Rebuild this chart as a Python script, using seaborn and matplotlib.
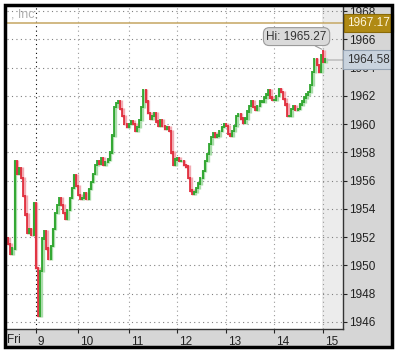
import matplotlib
matplotlib.use('Agg')
import matplotlib.pyplot as plt
import seaborn as sns
from matplotlib.patches import Rectangle
from matplotlib.transforms import ScaledTranslation

# hourly closes (Fri .. 15)
closes = [1951.5, 1950.8, 1951.2, 1957.4, 1956.5, 1956.9, 1956.2, 1954.9, 1953.6, 1952.3,
          1952.6, 1952.2, 1954.4, 1949.8, 1946.4, 1949.6, 1951.9, 1952.4, 1951.2, 1950.5,
          1951.4, 1952.6, 1953.7, 1954.3, 1954.8, 1954.3, 1953.7, 1953.3, 1953.9, 1954.8,
          1955.5, 1956.4, 1955.6, 1955.0, 1954.7, 1954.8, 1955.1, 1954.7, 1955.4, 1955.9,
          1956.5, 1957.1, 1957.4, 1957.2, 1957.6, 1957.1, 1957.3, 1957.5, 1958.0, 1959.2,
          1961.2, 1961.5, 1961.6, 1961.1, 1960.6, 1960.0, 1959.8, 1960.0, 1960.2, 1960.0,
          1959.5, 1959.8, 1960.3, 1961.2, 1962.4, 1961.6, 1960.8, 1960.4, 1960.6, 1960.8,
          1960.2, 1959.9, 1960.3, 1959.9, 1959.7, 1959.8, 1959.5, 1958.0, 1957.1, 1957.5,
          1957.6, 1957.4, 1957.4, 1957.1, 1957.0, 1956.2, 1955.3, 1955.1, 1955.2, 1955.5,
          1955.8, 1956.2, 1956.7, 1957.4, 1957.9, 1958.6, 1959.1, 1959.4, 1959.1, 1959.2,
          1959.5, 1959.8, 1960.0, 1959.9, 1959.3, 1959.2, 1959.5, 1959.9, 1960.6, 1960.7,
          1960.4, 1960.1, 1960.4, 1960.9, 1961.3, 1961.6, 1961.2, 1961.0, 1961.3, 1961.6,
          1961.6, 1961.9, 1962.1, 1962.4, 1961.9, 1961.7, 1961.7, 1962.0, 1962.5, 1962.3,
          1961.8, 1961.4, 1960.6, 1960.6, 1961.1, 1961.3, 1961.0, 1961.1, 1961.4, 1961.6,
          1961.9, 1962.1, 1962.3, 1962.8, 1963.7, 1964.6, 1964.2, 1963.7, 1964.9, 1964.4,
          1964.58]
first_open = 1951.9

day_starts = [13, 33, 57, 80, 103, 126, 149]
day_labels = ['9', '10', '11', '12', '13', '14', '15']
y_ticks = list(range(1946, 1969, 2))

hi_bar = 149
hi_value = 1965.27
last_value = 1964.58
ref_level = 1967.17

sns.set_style('white')
plt.rcParams['font.family'] = ['Liberation Sans', 'DejaVu Sans']

fig = plt.figure(figsize=(4, 3.52), dpi=100)
W, H = 400, 352

# gray panels behind the axes + outer black frame
fig.patches.append(Rectangle((343 / W, 5 / H), 49 / W, 342 / H, transform=fig.transFigure,
                             color='#d6d6d6', zorder=-2))
fig.patches.append(Rectangle((5 / W, 5 / H), 338 / W, 18 / H, transform=fig.transFigure,
                             color='#d6d6d6', zorder=-2))
fig.patches.append(Rectangle((5 / W, 5 / H), 387 / W, 342 / H, transform=fig.transFigure,
                             fill=False, ec='black', lw=2.5, zorder=5))

ax = fig.add_axes([7 / W, 23 / H, 336 / W, 322 / H])
ax.set_zorder(2)
ax.set_facecolor('white')

x_left, x_right = -0.6, 158.5
ax.set_xlim(x_left, x_right)
ax.set_ylim(1945.5, 1968.3)

# future area
ax.axvspan(day_starts[-1] - 0.3, x_right, color='#ececec', zorder=0, lw=0)

# grid
for y in y_ticks:
    ax.axhline(y, color='#808080', lw=0.8, ls=(0, (1, 3)), zorder=1)
for i, d in enumerate(day_starts):
    ax.axvline(d, color='black' if i == 0 else '#9a9a9a', lw=0.8, ls=(0, (1, 3)), zorder=1)

# candles: open = previous close
opens = [first_open] + closes[:-1]
up_c, dn_c = '#119911', '#dd1122'
up_p, dn_p = '#a9dca9', '#f2aab2'
for i, (o, c) in enumerate(zip(opens, closes)):
    lo, hi = min(o, c) - 0.08, max(o, c) + 0.08
    if i == hi_bar:
        hi = hi_value
    up = c >= o
    ax.vlines(i + 0.35, lo, hi, color=up_p if up else dn_p, lw=2.4, zorder=2)
    ax.vlines(i, lo, hi, color=up_c if up else dn_c, lw=1.1, zorder=3)

# reference level and last price
ax.axhline(ref_level, color='#c9ad6e', lw=1.2, zorder=2)
ax.hlines(last_value, len(closes) - 0.5, x_right, color='#c0c0c0', lw=1.2, zorder=2)

ax.text(1.012, ref_level, f'{ref_level:.2f}', transform=ax.get_yaxis_transform(),
        ha='left', va='center', fontsize=8.5, color='#fff6dc', zorder=6, clip_on=False,
        bbox=dict(boxstyle='square,pad=0.25', fc='#b08a14', ec='#8a6a08', lw=0.8))
ax.text(1.012, last_value, f'{last_value:.2f}', transform=ax.get_yaxis_transform(),
        ha='left', va='center', fontsize=8.5, color='#333333', zorder=6, clip_on=False,
        bbox=dict(boxstyle='square,pad=0.3', fc='#c9d3de', ec='#95a3b3', lw=0.8))

ax.annotate(f'Hi: {hi_value:.2f}', xy=(hi_bar, hi_value), xytext=(-19, 9.5),
            textcoords='offset points', ha='center', va='center', fontsize=8.5,
            color='#333333', zorder=6,
            bbox=dict(boxstyle='round,pad=0.25,rounding_size=0.5', fc='#dadada', ec='#9a9a9a', lw=0.8),
            arrowprops=dict(arrowstyle='-', color='#9a9a9a', lw=0.8, shrinkA=0, shrinkB=1))

ax.text(0.012, 0.995, ', Inc.', transform=ax.transAxes, ha='left', va='top',
        fontsize=9, color='#b0b0b0')

# axes
ax.yaxis.tick_right()
ax.set_yticks(y_ticks)
ax.set_yticklabels([str(v) for v in y_ticks])
ax.set_xticks(day_starts)
ax.set_xticklabels(day_labels, ha='left')
ax.text(0.0, -0.035, 'Fri', transform=ax.transAxes, ha='left', va='center',
        fontsize=8.5, color='#222222')
ax.tick_params(axis='y', direction='out', length=3, width=0.8, pad=1.5,
               labelsize=8.5, colors='#222222', right=True, left=False)
ax.tick_params(axis='x', direction='out', length=3, width=0.8, pad=2,
               labelsize=8.5, colors='#222222', bottom=True)
for lbl in ax.get_xticklabels():
    lbl.set_transform(lbl.get_transform() + ScaledTranslation(2 / 100, 0, fig.dpi_scale_trans))

for s in ['top', 'left']:
    ax.spines[s].set_visible(False)
for s in ['right', 'bottom']:
    ax.spines[s].set_color('#333333')
    ax.spines[s].set_linewidth(1)

fig.savefig('out.png', dpi=100)
